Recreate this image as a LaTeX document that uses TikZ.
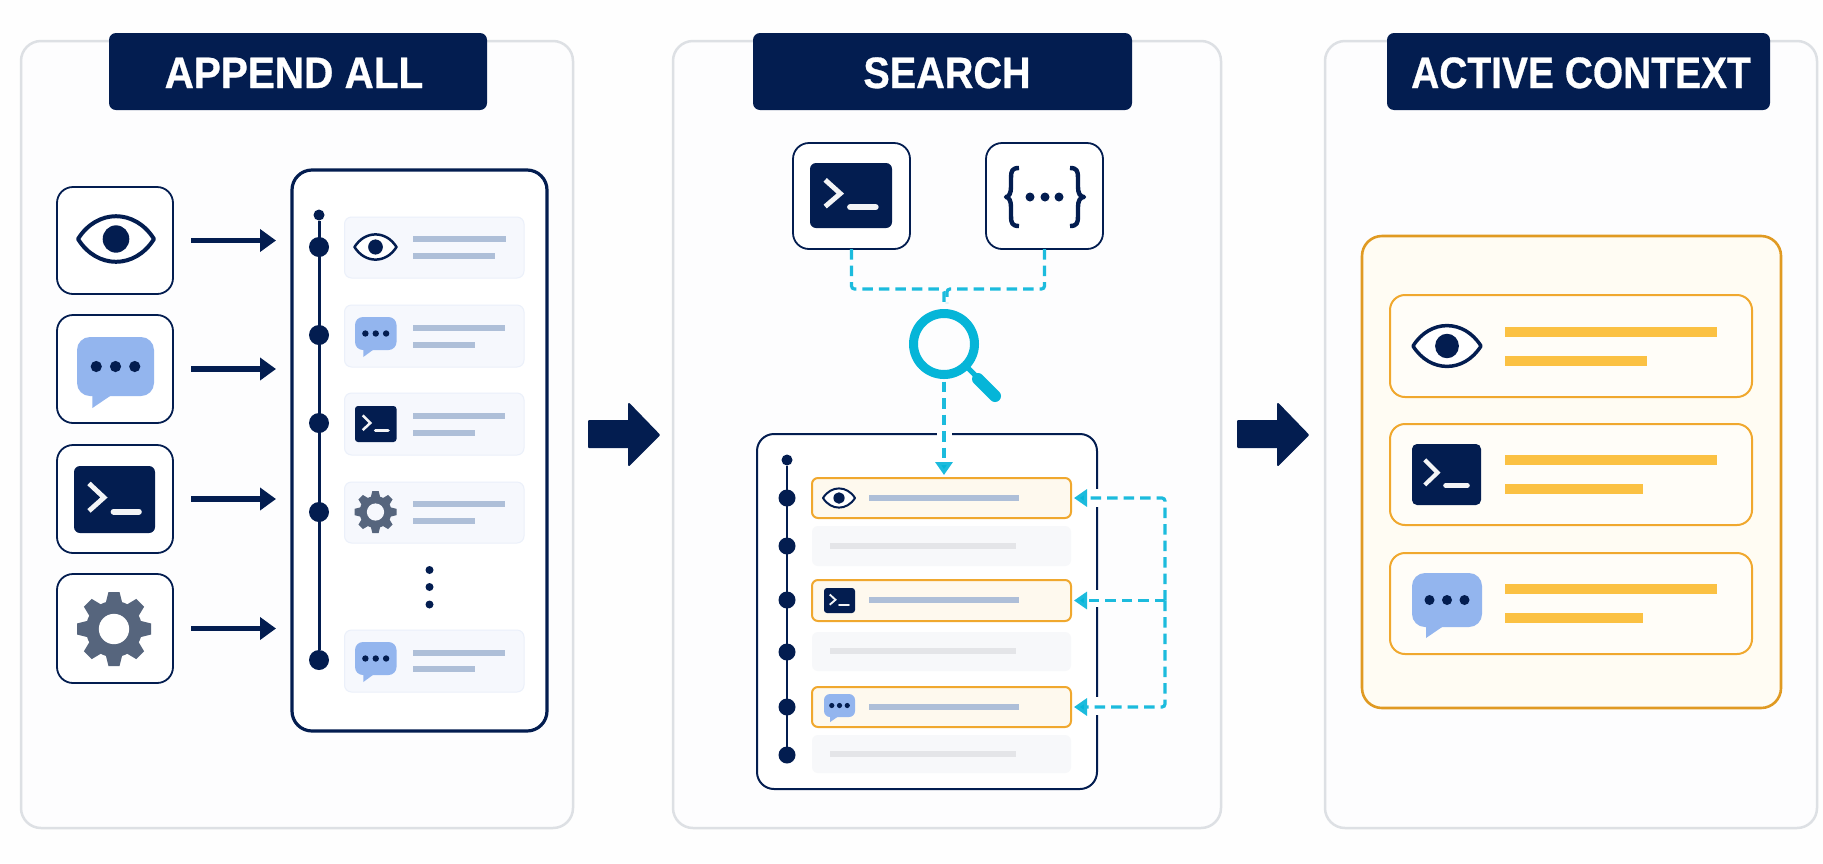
\documentclass[tikz,border=0pt]{standalone}
\usepackage{fontspec}
\setmainfont{Liberation Sans}[BoldFeatures={FakeBold=0.7}]
\usetikzlibrary{arrows.meta}
\definecolor{navy}{HTML}{031D50}
\definecolor{chatblue}{HTML}{93B5EE}
\definecolor{gearc}{HTML}{56657D}
\definecolor{cyanl}{HTML}{1CBBDD}
\definecolor{cyanm}{HTML}{05B5D8}
\definecolor{panelb}{HTML}{DDE0E4}
\definecolor{barblue}{HTML}{AEBFD8}
\definecolor{cardf}{HTML}{F6F8FD}
\definecolor{cardb}{HTML}{EBF0FA}
\definecolor{greyf}{HTML}{F7F8FA}
\definecolor{greyb}{HTML}{E4E5E8}
\definecolor{amber}{HTML}{F0A82E}
\definecolor{amberd}{HTML}{E09A22}
\definecolor{hif}{HTML}{FEF9EE}
\definecolor{ctxf}{HTML}{FFFCF3}
\definecolor{ctxc}{HTML}{FFFDF8}
\definecolor{baramber}{HTML}{FBC143}
\definecolor{pagebg}{HTML}{FEFEFE}
\definecolor{panelf}{HTML}{FDFDFE}
\tikzset{
  panelbox/.style={draw=panelb,line width=2.5pt,fill=panelf,rounded corners=20pt},
  headbox/.style={fill=navy,rounded corners=7pt},
  titletext/.style={text=white,anchor=base,inner sep=0pt,font=\fontsize{44}{44}\selectfont\bfseries},
  iconbox/.style={draw=navy,line width=1.8pt,fill=white,rounded corners=16pt},
  logbox/.style={draw=navy,line width=3.2pt,fill=white,rounded corners=20pt},
  logboxb/.style={draw=navy,line width=2pt,fill=white,rounded corners=17pt},
  cardbox/.style={draw=cardb,line width=1pt,fill=cardf,rounded corners=7pt},
  hibox/.style={draw=amber,line width=2pt,fill=hif,rounded corners=6pt},
  greybox/.style={fill=greyf,rounded corners=6pt},
  ctxbox/.style={draw=amberd,line width=2.6pt,fill=ctxf,rounded corners=20pt},
  ctxcard/.style={draw=amber,line width=2pt,fill=ctxc,rounded corners=15pt},
  feedarrow/.style={draw=navy,line width=5.5pt,-{Triangle[length=16pt,width=22pt]},shorten <=18pt,shorten >=16pt},
  bigarrow/.style={fill=navy,draw=navy,line width=2pt,line join=round},
  cyanline/.style={draw=cyanl,line width=3.2pt,dash pattern=on 10.5pt off 6pt,rounded corners=3pt},
  cyantip/.style={-{Triangle[length=13pt,width=17pt,fill=cyanm]}},
  spine/.style={draw=navy,line width=3pt},
  spineb/.style={draw=navy,line width=2.5pt},
  dotbig/.style={circle,fill=navy,inner sep=0pt,outer sep=0pt,minimum size=#1},
}
\newcommand\Bx[6]{\node[#1,inner sep=0pt,outer sep=0pt,minimum width={(#5-#3)*1pt},minimum height={(#6-#4)*1pt}] (#2) at ({(#3+#5)/2},{(#4+#6)/2}) {};}
\newcommand\Bar[5]{\fill[#5] (#1,{#2-#4/2}) rectangle (#3,{#2+#4/2});}
% cx cy halfwidth linewidth
\newcommand\Eye[4]{\begin{scope}[shift={(#1,#2)},scale=#3]
  \draw[navy,fill=white,line width=#4,line join=round] (-1,0) .. controls (-.5,-.8) and (.5,-.8) .. (1,0) .. controls (.5,.8) and (-.5,.8) .. (-1,0) -- cycle;
  \fill[navy] (0,0) circle [x radius=.35,y radius=.36];
\end{scope}}
% x1 y1 x2 y2 tipy radius dotradius
\newcommand\Chat[7]{%
  \fill[chatblue,rounded corners=#6] (#1,#2) rectangle (#3,#4);
  \fill[chatblue] ({#1+.2*(#3-#1)},{#4-3}) -- ({#1+.2*(#3-#1)},#5) -- ({#1+.43*(#3-#1)},#4) -- cycle;
  \foreach \d in {-.25,0,.25} \fill[navy] ({(#1+#3)/2+\d*(#3-#1)},{(#2+#4)/2}) circle [radius=#7];
}
% x1 y1 x2 y2 corner
\newcommand\Term[5]{%
  \fill[navy,rounded corners=#5] (#1,#2) rectangle (#3,#4);
  \draw[white!95!navy,line width={.06*(#3-#1)*1pt},line join=miter] ({#1+.185*(#3-#1)},{#2+.26*(#4-#2)}) -- ({#1+.37*(#3-#1)},{#2+.47*(#4-#2)}) -- ({#1+.185*(#3-#1)},{#2+.67*(#4-#2)});
  \draw[white!95!navy,line width={.075*(#3-#1)*1pt},line cap=round] ({#1+.49*(#3-#1)},{#2+.68*(#4-#2)}) -- ({#1+.8*(#3-#1)},{#2+.68*(#4-#2)});
}
% cx cy R holecolour
\newcommand\Gear[4]{\begin{scope}[shift={(#1,#2)},scale=#3]
  \fill[gearc] (0,0) circle [radius=.76];
  \foreach \a in {0,45,...,315} \fill[gearc,rotate=\a] (-.23,-.68) -- (-.15,-1) -- (.15,-1) -- (.23,-.68) -- cycle;
  \fill[#4] (0,0) circle [radius=.41];
\end{scope}}
\begin{document}
\begin{tikzpicture}[x=1pt,y=-1pt]
\useasboundingbox (0,0) rectangle (1823,863);
\fill[pagebg] (0,0) rectangle (1823,863);

% ---------- panels ----------
\Bx{panelbox}{pa}{21}{41}{573}{828}
\Bx{panelbox}{pb}{673}{41}{1221}{828}
\Bx{panelbox}{pc}{1325}{41}{1817}{828}
\Bx{headbox}{ha}{109}{33}{487}{110}
\Bx{headbox}{hb}{753}{33}{1132}{110}
\Bx{headbox}{hc}{1387}{33}{1770}{110}
\node[titletext] (ta) at (294,88) {\scalebox{.92}[1]{APPEND ALL}};
\node[titletext] (tb) at (947,88) {\scalebox{.9}[1]{SEARCH}};
\node[titletext] (tc) at (1581,88) {\scalebox{.885}[1]{ACTIVE CONTEXT}};

% ---------- panel 1 ----------
\Bx{iconbox}{ia}{57}{187}{173}{294}
\Bx{iconbox}{ib}{57}{315}{173}{423}
\Bx{iconbox}{ic}{57}{445}{173}{553}
\Bx{iconbox}{id}{57}{574}{173}{683}
\Eye{116}{239}{38}{4pt}
\Chat{77}{337}{154}{396}{408}{13pt}{5.6}
\Term{74}{466}{155}{533}{6pt}
\Gear{114}{629}{37}{white}
\Bx{logbox}{la}{292}{170}{547}{731}
\foreach \s in {ia,ib,ic,id} \draw[feedarrow] (\s.east) -- (\s.east -| la.west);

\node[dotbig=11pt] (ds) at (319,215) {};
\foreach \n/\y in {1/247,2/335,3/423,4/512,5/660} \node[dotbig=20pt] (d\n) at (319,\y) {};
\draw[spine] (ds) -- (d5);

\Bx{cardbox}{ca}{344.5}{217}{524}{278}
\Bx{cardbox}{cb}{344.5}{305}{524}{367}
\Bx{cardbox}{cc}{344.5}{393}{524}{455}
\Bx{cardbox}{cd}{344.5}{482}{524}{543}
\Bx{cardbox}{ce}{344.5}{630}{524}{692}
\Eye{375.5}{247}{21}{2.5pt}
\Chat{355}{317}{396.5}{350}{357}{8pt}{3.2}
\Term{355}{406}{396.5}{442}{3pt}
\Gear{375.5}{512}{21}{cardf}
\Chat{355}{642}{396.5}{675}{682}{8pt}{3.2}
\foreach \y/\u in {239/506,328/505,416/505,504/505,653/505} {\Bar{413}{\y}{\u}{6.5}{barblue}}
\foreach \y/\u in {256/495,345/475,433/475,521/475,669/475} {\Bar{413}{\y}{\u}{6.5}{barblue}}
\foreach \y in {570,587,604.5} \node[dotbig=8pt] at (429.5,\y) {};

% ---------- big arrows ----------
\fill[bigarrow] (589,421) -- (629,421) -- (629,404) -- (659,435) -- (629,465) -- (629,447) -- (589,447) -- cycle;
\fill[bigarrow] (1238,421) -- (1278,421) -- (1278,404) -- (1308,435) -- (1278,465) -- (1278,447) -- (1238,447) -- cycle;

% ---------- panel 2 ----------
\Bx{iconbox}{sa}{793}{143}{910}{249}
\Bx{iconbox}{sb}{986}{143}{1103}{249}
\Term{810}{163}{892}{228}{6pt}
\draw[navy,line width=4.4pt,line join=round] (1019,168) .. controls (1012,168) and (1011,171) .. (1011,178) -- (1011,187) .. controls (1011,193) and (1009,197) .. (1006,197) .. controls (1009,197) and (1011,201) .. (1011,207) -- (1011,216) .. controls (1011,223) and (1012,226) .. (1019,226);
\draw[navy,line width=4.4pt,line join=round] (1070,168) .. controls (1077,168) and (1078,171) .. (1078,178) -- (1078,187) .. controls (1078,193) and (1080,197) .. (1084,197) .. controls (1080,197) and (1078,201) .. (1078,207) -- (1078,216) .. controls (1078,223) and (1077,226) .. (1070,226);
\foreach \x in {1030,1045,1059} \fill[navy] (\x,197) circle [radius=4.5];

\node[circle,draw=cyanm,line width=9pt,minimum size=61pt,inner sep=0pt,outer sep=0pt] (lens) at (944,344) {};
\draw[cyanm,line width=5pt] (966,366) -- (976,376);
\draw[cyanm,line width=12pt,line cap=round] (978,379) -- (995,396);

\coordinate (ja) at (944,289);
\coordinate (jb) at (947,289);
\coordinate (jc) at (944,303);
\coordinate (jd) at (947,303);
\draw[cyanline] (sa.south) -- (sa.south |- ja) -- (ja) -- (jc);
\draw[cyanline] (sb.south) -- (sb.south |- jb) -- (jb) -- (jd);

\Bx{logboxb}{lb}{757}{434}{1097}{789}
\node[dotbig=11pt] (es) at (787,460) {};
\foreach \n/\y in {1/498,2/546,3/600,4/652,5/707,6/755} \node[dotbig=17pt] (e\n) at (787,\y) {};
\draw[spineb] (es) -- (e6);

\Bx{hibox}{ra}{812}{478}{1071}{518}
\Bx{greybox}{rb}{812}{526}{1071}{566}
\Bx{hibox}{rc}{812}{580}{1071}{621}
\Bx{greybox}{rd}{812}{632}{1071}{671}
\Bx{hibox}{re}{812}{687}{1071}{727}
\Bx{greybox}{rf}{812}{735}{1071}{773}
\Eye{839}{498}{16}{2pt}
\Term{824}{588}{855}{613}{3pt}
\Chat{824}{694}{855}{717}{722}{6pt}{2.6}
\foreach \y in {498,600,707} {\Bar{869}{\y}{1019}{6}{barblue}}
\foreach \y in {546,651,754} {\Bar{830}{\y}{1016}{6}{greyb}}

% gaps in the log frame where the search lines cross it
\draw[white,line width=5pt] (937,434) -- (952,434);
\draw[white,line width=5pt] (1097,489) -- (1097,507);
\draw[white,line width=5pt] (1097,590) -- (1097,607);
\draw[white,line width=5pt] (1097,697) -- (1097,715);

\draw[cyanline,cyantip,shorten <=7pt,shorten >=3pt] (lens.south) -- (lens.south |- ra.north);
\coordinate (bus) at (1165,600.5);
\draw[cyanline,cyantip,shorten >=3pt] (bus) -- (bus |- ra.east) -- (ra.east);
\draw[cyanline,cyantip,shorten >=3pt] (bus) -- (rc.east);
\draw[cyanline,cyantip,shorten >=3pt] (bus) -- (bus |- re.east) -- (re.east);

% ---------- panel 3 ----------
\Bx{ctxbox}{ctx}{1362}{236}{1781}{708}
\Bx{ctxcard}{xa}{1390}{295}{1752}{397}
\Bx{ctxcard}{xb}{1390}{424}{1752}{525}
\Bx{ctxcard}{xc}{1390}{553}{1752}{654}
\Eye{1447}{346}{34}{3.5pt}
\Term{1412}{444}{1481}{505}{5pt}
\Chat{1412}{573}{1482}{627}{638}{13pt}{5}
\foreach \y/\u in {332/1717,361/1647,460/1717,489/1643,589/1717,618/1643} {\Bar{1505}{\y}{\u}{10}{baramber}}
\end{tikzpicture}
\end{document}
